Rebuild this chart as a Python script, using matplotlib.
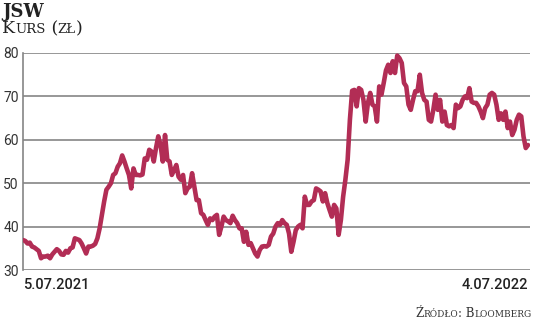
import numpy as np
import matplotlib.pyplot as plt
from matplotlib.transforms import IdentityTransform

# kurs JSW, 5.07.2021 - 4.07.2022
kurs_1 = [36.9, 36.7, 36.1, 36.3, 35.4, 35.2, 34.8, 34.4, 32.7, 33.1, 33.1, 33.3, 32.7, 33.6,
          34.2, 34.8, 34.4, 33.6, 33.5, 34.4, 34.0, 35.0, 35.2, 37.3, 37.1, 36.9, 36.1, 35.0,
          33.8, 35.4, 35.4, 35.6, 36.0, 37.3, 39.6, 42.7, 45.8, 48.5, 49.2, 50.0, 51.9, 52.3,
          53.8, 54.6, 56.4, 55.0, 53.4, 51.9, 48.8, 53.4, 51.9, 51.9, 51.8, 52.0, 55.7]
kurs_2 = [55.4, 57.7, 57.3, 55.0, 58.1, 60.8, 58.8, 55.0, 61.1, 55.4, 55.0, 51.9, 53.0, 54.2,
          51.5, 50.8, 51.9, 47.7, 48.8, 49.2, 52.3, 49.2, 46.1, 46.1, 43.1, 42.7, 41.5, 40.4,
          41.9, 41.5, 42.3, 42.7, 38.1, 40.0, 42.3, 41.5, 41.2, 40.8, 42.5, 41.5, 40.8, 39.6,
          39.6, 36.5, 38.8, 35.8, 36.2, 35.0, 33.8, 33.1, 34.6]
kurs_3 = [35.4, 35.5, 35.4, 35.8, 37.7, 38.4, 40.0, 40.8, 40.4, 41.5, 40.8, 40.4, 38.4, 34.2,
          36.5, 39.2, 40.0, 40.4, 39.6, 46.9, 45.0, 45.0, 45.8, 46.1, 48.8, 48.5, 48.1, 45.8,
          47.7, 45.4, 43.8, 42.3, 45.0, 44.2, 38.1, 41.5, 46.9, 50.8, 55.4, 64.6, 71.3]
kurs_4 = [71.5, 67.7, 71.9, 71.5, 69.2, 64.2, 68.5, 70.8, 68.1, 67.7, 64.2, 72.3, 70.4, 73.1,
          76.0, 77.3, 75.4, 78.1, 75.4, 79.4, 78.8, 77.7, 73.1, 72.3, 68.1, 66.9, 69.2, 71.2,
          71.2, 75.0, 70.8, 69.2, 68.8, 64.6, 64.2, 66.9, 70.4, 66.9, 69.2, 64.2, 66.5, 63.4,
          63.1, 63.4, 62.7, 68.1, 67.3, 67.7, 69.2, 70.0, 69.6, 71.9, 68.8, 68.5, 68.5, 67.7,
          66.5, 65.0, 67.3, 68.1, 70.4, 70.8, 70.4, 68.1, 64.6, 66.1, 64.6, 66.5, 62.7, 64.2,
          61.1, 62.3, 64.6, 65.8, 65.4, 60.8, 58.1, 58.8]
kurs = np.array(kurs_1 + kurs_2 + kurs_3 + kurs_4)
daty = ['5.07.2021', '4.07.2022']
yticks = [30, 40, 50, 60, 70, 80]

W, H = 536, 322
fig = plt.figure(figsize=(W / 100, H / 100), dpi=100)
ax = fig.add_axes([23 / W, 1 - 270 / H, 507 / W, 217 / H])

n = len(kurs)
ax.plot(np.arange(n), kurs, color='#b22d55', lw=3.3, solid_joinstyle='round',
        solid_capstyle='round', zorder=3)
ax.set_xlim(0, (n - 1) * 507 / 505)
ax.set_ylim(30, 80)

for v in yticks:
    ax.axhline(v, color='#858585', lw=1.2, zorder=1)
for s in ['top', 'right', 'bottom']:
    ax.spines[s].set_visible(False)
ax.spines['left'].set_color('#858585')
ax.spines['left'].set_linewidth(1.2)
ax.set_yticks(yticks)
ax.set_yticklabels([str(v) for v in yticks], fontsize=10, family='Roboto', color='#333333')
ax.tick_params(axis='y', length=0, pad=3)
ax.set_xticks([])

ax.text(0, -0.035, daty[0], transform=ax.transAxes, ha='left', va='top',
        fontsize=10.5, family='Roboto', fontweight='medium', color='#222222')
ax.text((n - 1) / ax.get_xlim()[1], -0.035, daty[1], transform=ax.transAxes, ha='right',
        va='top', fontsize=10.5, family='Roboto', fontweight='medium', color='#222222')

fig.text(2 / W, 1 - 17 / H, 'JSW', fontsize=13, family='DejaVu Serif',
         fontweight='bold', color='#222222', va='baseline')

renderer = fig.canvas.get_renderer()


def kapitaliki(x, y, parts, ha='left', **kw):
    # male kapitaliki: kazdy kawalek z wlasnym rozmiarem
    texts = []
    cx = x
    for s, size in parts:
        t = fig.text(cx, y, s, fontsize=size, transform=IdentityTransform(),
                     va='baseline', ha='left', **kw)
        cx = t.get_window_extent(renderer).x1
        texts.append(t)
    if ha == 'right':
        dx = x - cx
        for t in texts:
            t.set_x(t.get_position()[0] + dx)


kapitaliki(2, H - 33, [('K', 12.5), ('URS', 9.5), (' (', 12.5), ('ZŁ', 9.5), (')', 12.5)],
           family='DejaVu Serif', color='#222222')
kapitaliki(532, H - 317, [('Ź', 8.5), ('RÓDŁO', 6.5), (': B', 8.5), ('LOOMBERG', 6.5)],
           ha='right', family='DejaVu Serif', color='#333333')

fig.savefig('out.png', dpi=100)
